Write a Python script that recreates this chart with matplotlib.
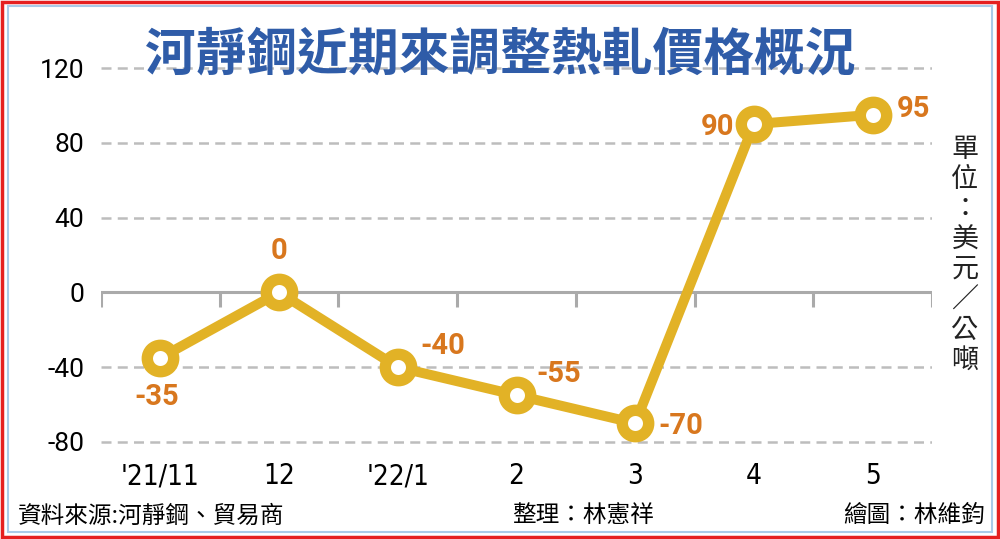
import matplotlib.pyplot as plt
from matplotlib.patches import Rectangle

plt.rcParams['font.family'] = ['Noto Sans CJK TC', 'DejaVu Sans']

months = ["'21/11", "12", "'22/1", "2", "3", "4", "5"]
price_change = [-35, 0, -40, -55, -70, 90, 95]
y_ticks = [120, 80, 40, 0, -40, -80]

title = "河靜鋼近期來調整熱軋價格概況"
unit = "單位：美元／公噸"
source = "資料來源:河靜鋼、貿易商"
editor = "整理：林憲祥"
artist = "繪圖：林維鈞"

# label offsets in points (dx, dy, ha, va)
label_pos = [
    (-3, -18, 'center', 'top'),
    (0, 20, 'center', 'bottom'),
    (16, 5, 'left', 'bottom'),
    (14, 5, 'left', 'bottom'),
    (17, -2, 'left', 'center'),
    (-14, -2, 'right', 'center'),
    (17, 4, 'left', 'center'),
]

line_col = '#e2b226'
label_col = '#d8771e'
grid_col = '#bdbdbd'

fig = plt.figure(figsize=(10, 5.39), dpi=100)
ax = fig.add_axes([0.101, 0.1627, 0.831, 0.7458])

x = list(range(len(months)))
ax.set_xlim(-0.5, len(months) - 0.5)
ax.set_ylim(-85, 130)

for yv in y_ticks:
    if yv == 0:
        ax.axhline(0, color='#aaaaaa', lw=2.2, zorder=1)
    else:
        ax.axhline(yv, color=grid_col, lw=1.8, ls=(0, (4, 2.5)), zorder=1)
for b in range(len(months) + 1):
    ax.plot([b - 0.5, b - 0.5], [0, -8], color='#aaaaaa', lw=2.2, zorder=1,
            solid_capstyle='butt')

ax.plot(x, price_change, color=line_col, lw=7.2, marker='o', ms=19,
        mfc='white', mec=line_col, mew=8.2, zorder=3, solid_joinstyle='round')

for xi, v, (dx, dy, ha, va) in zip(x, price_change, label_pos):
    ax.annotate(str(v), (xi, v), xytext=(dx, dy), textcoords='offset points',
                ha=ha, va=va, color=label_col, fontsize=21, fontweight='bold',
                family=['Roboto', 'DejaVu Sans'], zorder=4)

ax.set_xticks(x)
ax.set_xticklabels(months, fontsize=20, family=['DejaVu Sans'], fontstretch='condensed')
ax.set_yticks(y_ticks)
ax.set_yticklabels([str(v) for v in y_ticks], fontsize=19, family=['Roboto', 'DejaVu Sans'])
ax.tick_params(length=0, pad=12)
ax.tick_params(axis='x', pad=8)
for s in ax.spines.values():
    s.set_visible(False)
ax.patch.set_alpha(0)

fig.text(0.5, 0.898, title, ha='center', va='center', fontsize=36.5,
         fontweight='bold', color='#2f5ca8')
fig.text(0.965, 0.527, '\n'.join(unit), ha='center', va='center', fontsize=19.5,
         linespacing=1.15, color='#222222')
fig.text(0.018, 0.043, source, ha='left', va='center', fontsize=17)
fig.text(0.583, 0.043, editor, ha='center', va='center', fontsize=17)
fig.text(0.985, 0.043, artist, ha='right', va='center', fontsize=17)

fig.patches.append(Rectangle((0.002, 0.003), 0.996, 0.994, transform=fig.transFigure,
                             fill=False, ec='#e52020', lw=2.5))
fig.patches.append(Rectangle((0.008, 0.013), 0.984, 0.975, transform=fig.transFigure,
                             fill=False, ec='#a9cbe8', lw=1.5))

fig.savefig('out.png', dpi=100)
